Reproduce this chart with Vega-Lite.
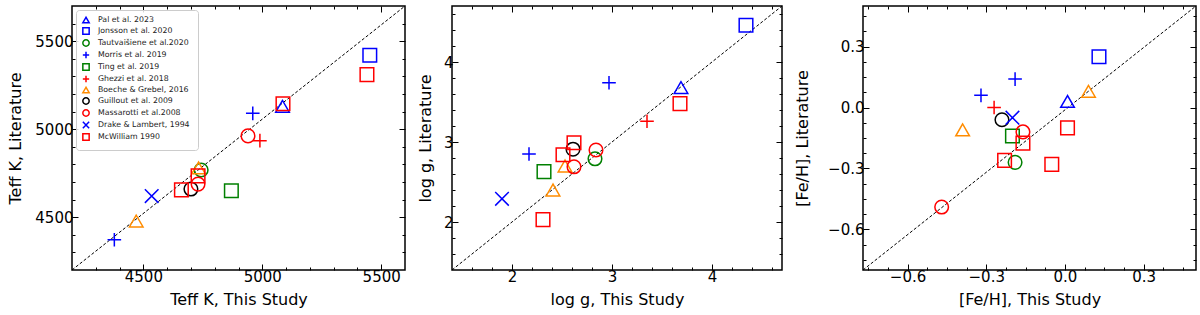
{
  "$schema": "https://vega.github.io/schema/vega-lite/v6.json",
  "padding": {"left": 6, "top": 4, "right": 0, "bottom": 2},
  "config": {
    "view": {"stroke": "black", "strokeWidth": 1.5},
    "axis": {"labelFont": "DejaVu Sans", "labelFontSize": 15, "labelColor": "black", "titleFont": "DejaVu Sans", "titleFontSize": 16, "titleFontWeight": "normal", "titleColor": "black", "tickColor": "black", "tickWidth": 1, "grid": false, "domain": false, "labelOverlap": false, "labelFlush": false},
    "axisX": {"labelPadding": 5, "titlePadding": 4},
    "axisY": {"labelPadding": 5}
  },
  "datasets": {
    "d1": [{"x0": 4200, "y0": 4200, "x1": 5600, "y1": 5700}],
    "d2": [{"x0": 1.4, "y0": 1.4, "x1": 4.7, "y1": 4.7}],
    "d3": [{"x0": -0.77, "y0": -0.8, "x1": 0.5, "y1": 0.5}],
    "teff": [
      {"ref": "Pal et al. 2023", "x": 5085, "y": 5130},
      {"ref": "Jonsson et al. 2020", "x": 5452, "y": 5420},
      {"ref": "Tautvaišiene et al.2020", "x": 4743, "y": 4768},
      {"ref": "Morris et al. 2019", "x": 4960, "y": 5090},
      {"ref": "Morris et al. 2019", "x": 4378, "y": 4372},
      {"ref": "Ting et al. 2019", "x": 4870, "y": 4650},
      {"ref": "Ghezzi et al. 2018", "x": 4990, "y": 4935},
      {"ref": "Boeche &  Grebel, 2016", "x": 4732, "y": 4780},
      {"ref": "Boeche &  Grebel, 2016", "x": 4470, "y": 4478},
      {"ref": "Guillout et al. 2009", "x": 4700, "y": 4660},
      {"ref": "Massarotti et al.2008", "x": 4940, "y": 4962},
      {"ref": "Massarotti et al.2008", "x": 4730, "y": 4688},
      {"ref": "Drake & Lambert, 1994", "x": 4535, "y": 4620},
      {"ref": "McWilliam 1990", "x": 5440, "y": 5310},
      {"ref": "McWilliam 1990", "x": 5087, "y": 5145},
      {"ref": "McWilliam 1990", "x": 4730, "y": 4735},
      {"ref": "McWilliam 1990", "x": 4660, "y": 4655}
    ],
    "logg": [
      {"ref": "Pal et al. 2023", "x": 3.69, "y": 3.68},
      {"ref": "Jonsson et al. 2020", "x": 4.34, "y": 4.46},
      {"ref": "Tautvaišiene et al.2020", "x": 2.83, "y": 2.79},
      {"ref": "Morris et al. 2019", "x": 2.97, "y": 3.74},
      {"ref": "Morris et al. 2019", "x": 2.17, "y": 2.85},
      {"ref": "Ting et al. 2019", "x": 2.32, "y": 2.63},
      {"ref": "Ghezzi et al. 2018", "x": 3.35, "y": 3.26},
      {"ref": "Boeche &  Grebel, 2016", "x": 2.53, "y": 2.70},
      {"ref": "Boeche &  Grebel, 2016", "x": 2.41, "y": 2.40},
      {"ref": "Guillout et al. 2009", "x": 2.61, "y": 2.91},
      {"ref": "Massarotti et al.2008", "x": 2.84, "y": 2.90},
      {"ref": "Massarotti et al.2008", "x": 2.62, "y": 2.69},
      {"ref": "Drake & Lambert, 1994", "x": 1.90, "y": 2.29},
      {"ref": "McWilliam 1990", "x": 3.68, "y": 3.48},
      {"ref": "McWilliam 1990", "x": 2.62, "y": 2.99},
      {"ref": "McWilliam 1990", "x": 2.51, "y": 2.84},
      {"ref": "McWilliam 1990", "x": 2.31, "y": 2.03}
    ],
    "feh": [
      {"ref": "Pal et al. 2023", "x": 0.01, "y": 0.03},
      {"ref": "Jonsson et al. 2020", "x": 0.13, "y": 0.25},
      {"ref": "Tautvaišiene et al.2020", "x": -0.19, "y": -0.27},
      {"ref": "Morris et al. 2019", "x": -0.19, "y": 0.14},
      {"ref": "Morris et al. 2019", "x": -0.32, "y": 0.06},
      {"ref": "Ting et al. 2019", "x": -0.20, "y": -0.14},
      {"ref": "Ghezzi et al. 2018", "x": -0.27, "y": 0.0},
      {"ref": "Boeche &  Grebel, 2016", "x": 0.09, "y": 0.08},
      {"ref": "Boeche &  Grebel, 2016", "x": -0.39, "y": -0.11},
      {"ref": "Guillout et al. 2009", "x": -0.24, "y": -0.06},
      {"ref": "Massarotti et al.2008", "x": -0.16, "y": -0.12},
      {"ref": "Massarotti et al.2008", "x": -0.47, "y": -0.49},
      {"ref": "Drake & Lambert, 1994", "x": -0.20, "y": -0.05},
      {"ref": "McWilliam 1990", "x": -0.16, "y": -0.175},
      {"ref": "McWilliam 1990", "x": 0.01, "y": -0.10},
      {"ref": "McWilliam 1990", "x": -0.23, "y": -0.26},
      {"ref": "McWilliam 1990", "x": -0.05, "y": -0.28}
    ]
  },
  "spacing": 9,
  "resolve": {"scale": {"color": "independent", "shape": "independent"}, "legend": {"color": "independent", "shape": "independent"}},
  "hconcat": [
    {
      "width": 333, "height": 264,
      "resolve": {"axis": {"x": "independent", "y": "independent"}},
      "layer": [
        {
          "data": {"name": "d1"},
          "mark": {"type": "rule", "color": "black", "strokeWidth": 1, "strokeDash": [3, 2]},
          "encoding": {
            "x": {"field": "x0", "type": "quantitative", "scale": {"domain": [4200, 5600], "nice": false, "zero": false},
              "axis": {"orient": "top", "title": null, "labels": false, "minExtent": 0, "maxExtent": 0, "labelOverlap": false, "values": [4300,4400,4500,4600,4700,4800,4900,5000,5100,5200,5300,5400,5500], "tickSize": {"condition": {"test": "datum.value % 500 === 0", "value": -6}, "value": -3}}},
            "y": {"field": "y0", "type": "quantitative", "scale": {"domain": [4200, 5700], "nice": false, "zero": false},
              "axis": {"orient": "right", "title": null, "labels": false, "minExtent": 0, "maxExtent": 0, "labelOverlap": false, "values": [4300,4400,4500,4600,4700,4800,4900,5000,5100,5200,5300,5400,5500,5600], "tickSize": {"condition": {"test": "datum.value % 500 === 0", "value": -6}, "value": -3}}},
            "x2": {"field": "x1"},
            "y2": {"field": "y1"}
          }
        },
        {
          "data": {"name": "teff"},
          "mark": {"type": "point", "filled": false, "strokeWidth": 1.5, "opacity": 1, "size": 185},
          "encoding": {
            "x": {"field": "x", "type": "quantitative", "scale": {"domain": [4200, 5600], "nice": false, "zero": false},
              "axis": {"orient": "bottom", "title": "Teff K, This Study", "format": "d", "labelOverlap": false, "values": [4300,4400,4500,4600,4700,4800,4900,5000,5100,5200,5300,5400,5500], "labelExpr": "datum.value % 500 === 0 ? datum.label : ''", "tickSize": {"condition": {"test": "datum.value % 500 === 0", "value": -6}, "value": -3}}},
            "y": {"field": "y", "type": "quantitative", "scale": {"domain": [4200, 5700], "nice": false, "zero": false},
              "axis": {"orient": "left", "title": "Teff K, Literature", "format": "d", "labelOverlap": false, "minExtent": 45, "maxExtent": 45, "titlePadding": 4, "values": [4300,4400,4500,4600,4700,4800,4900,5000,5100,5200,5300,5400,5500,5600], "labelExpr": "datum.value % 500 === 0 ? datum.label : ''", "tickSize": {"condition": {"test": "datum.value % 500 === 0", "value": -6}, "value": -3}}},
            "color": {"field": "ref", "type": "nominal",
              "scale": {"domain": ["Pal et al. 2023", "Jonsson et al. 2020", "Tautvaišiene et al.2020", "Morris et al. 2019", "Ting et al. 2019", "Ghezzi et al. 2018", "Boeche &  Grebel, 2016", "Guillout et al. 2009", "Massarotti et al.2008", "Drake & Lambert, 1994", "McWilliam 1990"],
                "range": ["#0000ff", "#0000ff", "#008000", "#0000ff", "#008000", "#ff0000", "#ff8c00", "#000000", "#ff0000", "#0000ff", "#ff0000"]},
              "legend": {"title": null, "orient": "top-left", "offset": 4, "padding": 6, "fillColor": "rgba(255,255,255,0.85)", "strokeColor": "#cccccc", "cornerRadius": 3, "labelFont": "DejaVu Sans", "labelFontSize": 7.8, "labelColor": "#222222", "symbolSize": 40, "symbolStrokeWidth": 1.5, "rowPadding": -2.0, "labelOffset": 8}},
            "shape": {"field": "ref", "type": "nominal",
              "scale": {"domain": ["Pal et al. 2023", "Jonsson et al. 2020", "Tautvaišiene et al.2020", "Morris et al. 2019", "Ting et al. 2019", "Ghezzi et al. 2018", "Boeche &  Grebel, 2016", "Guillout et al. 2009", "Massarotti et al.2008", "Drake & Lambert, 1994", "McWilliam 1990"],
                "range": ["triangle-up", "square", "circle", "M-1,0L1,0M0,-1L0,1", "square", "M-1,0L1,0M0,-1L0,1", "triangle-up", "circle", "circle", "M-1,-1L1,1M-1,1L1,-1", "square"]},
              "legend": {"title": null, "orient": "top-left", "offset": 4, "padding": 6, "fillColor": "rgba(255,255,255,0.85)", "strokeColor": "#cccccc", "cornerRadius": 3, "labelFont": "DejaVu Sans", "labelFontSize": 7.8, "labelColor": "#222222", "symbolSize": 40, "symbolStrokeWidth": 1.5, "rowPadding": -2.0, "labelOffset": 8}}
          }
        }
      ]
    },
    {
      "width": 330, "height": 264,
      "resolve": {"axis": {"x": "independent", "y": "independent"}},
      "layer": [
        {
          "data": {"name": "d2"},
          "mark": {"type": "rule", "color": "black", "strokeWidth": 1, "strokeDash": [3, 2]},
          "encoding": {
            "x": {"field": "x0", "type": "quantitative", "scale": {"domain": [1.4, 4.7], "nice": false, "zero": false},
              "axis": {"orient": "top", "title": null, "labels": false, "minExtent": 0, "maxExtent": 0, "labelOverlap": false, "values": [1.6,1.8,2,2.2,2.4,2.6,2.8,3,3.2,3.4,3.6,3.8,4,4.2,4.4,4.6], "tickSize": {"condition": {"test": "abs(datum.value - round(datum.value)) < 1e-6", "value": -6}, "value": -3}}},
            "y": {"field": "y0", "type": "quantitative", "scale": {"domain": [1.4, 4.7], "nice": false, "zero": false},
              "axis": {"orient": "right", "title": null, "labels": false, "minExtent": 0, "maxExtent": 0, "labelOverlap": false, "values": [1.6,1.8,2,2.2,2.4,2.6,2.8,3,3.2,3.4,3.6,3.8,4,4.2,4.4,4.6], "tickSize": {"condition": {"test": "abs(datum.value - round(datum.value)) < 1e-6", "value": -6}, "value": -3}}},
            "x2": {"field": "x1"},
            "y2": {"field": "y1"}
          }
        },
        {
          "data": {"name": "logg"},
          "mark": {"type": "point", "filled": false, "strokeWidth": 1.5, "opacity": 1, "size": 185},
          "encoding": {
            "x": {"field": "x", "type": "quantitative", "scale": {"domain": [1.4, 4.7], "nice": false, "zero": false},
              "axis": {"orient": "bottom", "title": "log g, This Study", "format": ".0f", "labelOverlap": false, "values": [1.6,1.8,2,2.2,2.4,2.6,2.8,3,3.2,3.4,3.6,3.8,4,4.2,4.4,4.6], "labelExpr": "abs(datum.value - round(datum.value)) < 1e-6 ? datum.label : ''", "tickSize": {"condition": {"test": "abs(datum.value - round(datum.value)) < 1e-6", "value": -6}, "value": -3}}},
            "y": {"field": "y", "type": "quantitative", "scale": {"domain": [1.4, 4.7], "nice": false, "zero": false},
              "axis": {"orient": "left", "title": "log g, Literature", "format": ".0f", "labelOverlap": false, "minExtent": 16, "maxExtent": 16, "titlePadding": 3, "values": [1.6,1.8,2,2.2,2.4,2.6,2.8,3,3.2,3.4,3.6,3.8,4,4.2,4.4,4.6], "labelExpr": "abs(datum.value - round(datum.value)) < 1e-6 ? datum.label : ''", "tickSize": {"condition": {"test": "abs(datum.value - round(datum.value)) < 1e-6", "value": -6}, "value": -3}}},
            "color": {"field": "ref", "type": "nominal",
              "scale": {"domain": ["Pal et al. 2023", "Jonsson et al. 2020", "Tautvaišiene et al.2020", "Morris et al. 2019", "Ting et al. 2019", "Ghezzi et al. 2018", "Boeche &  Grebel, 2016", "Guillout et al. 2009", "Massarotti et al.2008", "Drake & Lambert, 1994", "McWilliam 1990"],
                "range": ["#0000ff", "#0000ff", "#008000", "#0000ff", "#008000", "#ff0000", "#ff8c00", "#000000", "#ff0000", "#0000ff", "#ff0000"]},
              "legend": null},
            "shape": {"field": "ref", "type": "nominal",
              "scale": {"domain": ["Pal et al. 2023", "Jonsson et al. 2020", "Tautvaišiene et al.2020", "Morris et al. 2019", "Ting et al. 2019", "Ghezzi et al. 2018", "Boeche &  Grebel, 2016", "Guillout et al. 2009", "Massarotti et al.2008", "Drake & Lambert, 1994", "McWilliam 1990"],
                "range": ["triangle-up", "square", "circle", "M-1,0L1,0M0,-1L0,1", "square", "M-1,0L1,0M0,-1L0,1", "triangle-up", "circle", "circle", "M-1,-1L1,1M-1,1L1,-1", "square"]},
              "legend": null}
          }
        }
      ]
    },
    {
      "width": 333, "height": 264,
      "resolve": {"axis": {"x": "independent", "y": "independent"}},
      "layer": [
        {
          "data": {"name": "d3"},
          "mark": {"type": "rule", "color": "black", "strokeWidth": 1, "strokeDash": [3, 2]},
          "encoding": {
            "x": {"field": "x0", "type": "quantitative", "scale": {"domain": [-0.77, 0.5], "nice": false, "zero": false},
              "axis": {"orient": "top", "title": null, "labels": false, "minExtent": 0, "maxExtent": 0, "labelOverlap": false, "values": [-0.75,-0.675,-0.6,-0.525,-0.45,-0.375,-0.3,-0.225,-0.15,-0.075,0,0.075,0.15,0.225,0.3,0.375,0.45], "tickSize": {"condition": {"test": "abs(datum.value/0.3 - round(datum.value/0.3)) < 1e-6", "value": -6}, "value": -3}}},
            "y": {"field": "y0", "type": "quantitative", "scale": {"domain": [-0.8, 0.5], "nice": false, "zero": false},
              "axis": {"orient": "right", "title": null, "labels": false, "minExtent": 0, "maxExtent": 0, "labelOverlap": false, "values": [-0.75,-0.675,-0.6,-0.525,-0.45,-0.375,-0.3,-0.225,-0.15,-0.075,0,0.075,0.15,0.225,0.3,0.375,0.45], "tickSize": {"condition": {"test": "abs(datum.value/0.3 - round(datum.value/0.3)) < 1e-6", "value": -6}, "value": -3}}},
            "x2": {"field": "x1"},
            "y2": {"field": "y1"}
          }
        },
        {
          "data": {"name": "feh"},
          "mark": {"type": "point", "filled": false, "strokeWidth": 1.5, "opacity": 1, "size": 185},
          "encoding": {
            "x": {"field": "x", "type": "quantitative", "scale": {"domain": [-0.77, 0.5], "nice": false, "zero": false},
              "axis": {"orient": "bottom", "title": "[Fe/H], This Study", "format": ".1f", "labelOverlap": false, "values": [-0.75,-0.675,-0.6,-0.525,-0.45,-0.375,-0.3,-0.225,-0.15,-0.075,0,0.075,0.15,0.225,0.3,0.375,0.45], "labelExpr": "abs(datum.value/0.3 - round(datum.value/0.3)) < 1e-6 ? datum.label : ''", "tickSize": {"condition": {"test": "abs(datum.value/0.3 - round(datum.value/0.3)) < 1e-6", "value": -6}, "value": -3}}},
            "y": {"field": "y", "type": "quantitative", "scale": {"domain": [-0.8, 0.5], "nice": false, "zero": false},
              "axis": {"orient": "left", "title": "[Fe/H], Literature", "format": ".1f", "labelOverlap": false, "minExtent": 41, "maxExtent": 41, "titlePadding": 12, "values": [-0.75,-0.675,-0.6,-0.525,-0.45,-0.375,-0.3,-0.225,-0.15,-0.075,0,0.075,0.15,0.225,0.3,0.375,0.45], "labelExpr": "abs(datum.value/0.3 - round(datum.value/0.3)) < 1e-6 ? datum.label : ''", "tickSize": {"condition": {"test": "abs(datum.value/0.3 - round(datum.value/0.3)) < 1e-6", "value": -6}, "value": -3}}},
            "color": {"field": "ref", "type": "nominal",
              "scale": {"domain": ["Pal et al. 2023", "Jonsson et al. 2020", "Tautvaišiene et al.2020", "Morris et al. 2019", "Ting et al. 2019", "Ghezzi et al. 2018", "Boeche &  Grebel, 2016", "Guillout et al. 2009", "Massarotti et al.2008", "Drake & Lambert, 1994", "McWilliam 1990"],
                "range": ["#0000ff", "#0000ff", "#008000", "#0000ff", "#008000", "#ff0000", "#ff8c00", "#000000", "#ff0000", "#0000ff", "#ff0000"]},
              "legend": null},
            "shape": {"field": "ref", "type": "nominal",
              "scale": {"domain": ["Pal et al. 2023", "Jonsson et al. 2020", "Tautvaišiene et al.2020", "Morris et al. 2019", "Ting et al. 2019", "Ghezzi et al. 2018", "Boeche &  Grebel, 2016", "Guillout et al. 2009", "Massarotti et al.2008", "Drake & Lambert, 1994", "McWilliam 1990"],
                "range": ["triangle-up", "square", "circle", "M-1,0L1,0M0,-1L0,1", "square", "M-1,0L1,0M0,-1L0,1", "triangle-up", "circle", "circle", "M-1,-1L1,1M-1,1L1,-1", "square"]},
              "legend": null}
          }
        }
      ]
    }
  ]
}
